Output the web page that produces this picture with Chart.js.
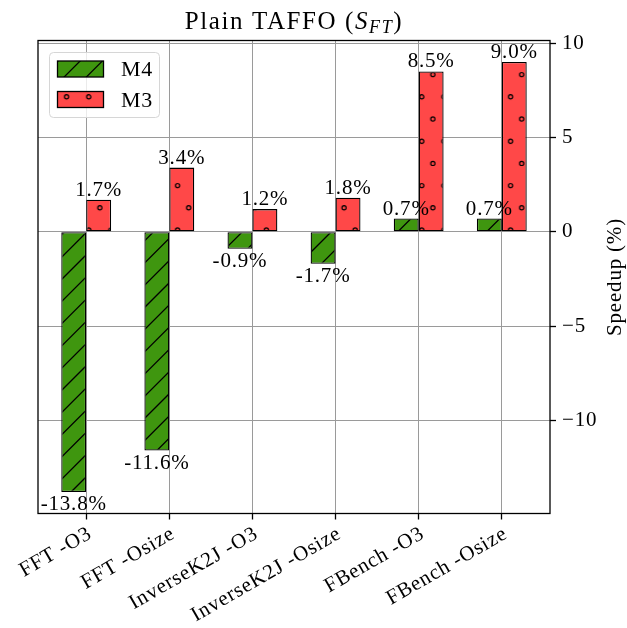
<!DOCTYPE html>
<html>
<head>
<meta charset="utf-8">
<script src="https://cdn.jsdelivr.net/npm/chart.js@4.4.1/dist/chart.umd.min.js"></script>
<style>
  html, body { margin: 0; padding: 0; background: #ffffff; }
  #wrap { width: 627px; height: 628px; }
</style>
</head>
<body>
<div id="wrap"><canvas id="c" width="627" height="628"></canvas></div>
<script>
// Benchmarks on the x axis
const categories = ['FFT -O3', 'FFT -Osize', 'InverseK2J -O3', 'InverseK2J -Osize', 'FBench -O3', 'FBench -Osize'];
// Speedup in percent for each target
const m4Speedup = [-13.8, -11.6, -0.9, -1.7, 0.7, 0.7];
const m3Speedup = [1.7, 3.4, 1.2, 1.8, 8.5, 9.0];
const seriesNames = ['M4', 'M3'];
// Value axis ticks
const yTicks = [-10, -5, 0, 5, 10];

const SERIF = '"Liberation Serif", "Times New Roman", serif';
const SPACING = '0.8px';
const GREEN = '#3f960f';
const RED = '#ff4848';
const HATCH = 22.2;      // hatch period in px
const TILE_W = 111;      // 5 hatch periods
const TILE_H = 222;      // 10 hatch periods (even, so staggered rows wrap cleanly)

function makeTile(bg, drawFn, tx, ty) {
  const cv = document.createElement('canvas');
  cv.width = TILE_W; cv.height = TILE_H;
  const g = cv.getContext('2d');
  g.fillStyle = bg;
  g.fillRect(0, 0, TILE_W, TILE_H);
  g.strokeStyle = '#000';
  drawFn(g);
  const ctx = document.getElementById('c').getContext('2d');
  const p = ctx.createPattern(cv, 'repeat');
  p.setTransform(new DOMMatrix([1, 0, 0, 1, tx, ty]));
  return p;
}

// "/" hatch
const slashPattern = makeTile(GREEN, g => {
  g.lineWidth = 1.3;
  g.beginPath();
  for (let k = -1; k <= 16; k++) {
    const c = k * HATCH;
    g.moveTo(c + 6, -6);
    g.lineTo(c - TILE_H - 6, TILE_H + 6);
  }
  g.stroke();
}, 8, 0);

// "o" hatch: rows one period apart, every other row shifted by half a period
const circlePattern = makeTile(RED, g => {
  g.lineWidth = 1.2;
  for (let j = -1; j <= 11; j++) {
    const shift = (((j % 2) + 2) % 2) ? HATCH / 2 : 0;
    for (let i = -1; i <= 6; i++) {
      g.beginPath();
      g.arc(i * HATCH + shift, j * HATCH, 2.1, 0, Math.PI * 2);
      g.stroke();
    }
  }
}, 88.7, 8);

const toPoints = arr => arr.map((v, i) => ({ x: i, y: v }));

// Wider glyph spacing for all text drawn by the chart
const spacingPlugin = {
  id: 'spacing',
  beforeUpdate(chart) { chart.ctx.letterSpacing = SPACING; },
  beforeLayout(chart) { chart.ctx.letterSpacing = SPACING; },
  beforeDraw(chart) { chart.ctx.letterSpacing = SPACING; }
};

// Frame, value labels, legend, titles
const decorPlugin = {
  id: 'decor',
  afterDatasetsDraw(chart) {
    const ctx = chart.ctx;
    const a = chart.chartArea;

    // value labels
    ctx.save();
    ctx.letterSpacing = SPACING;
    ctx.fillStyle = '#000';
    ctx.font = '21px ' + SERIF;
    ctx.textAlign = 'center';
    chart.data.datasets.forEach((ds, di) => {
      const meta = chart.getDatasetMeta(di);
      meta.data.forEach((bar, i) => {
        const v = ds.data[i].y;
        const txt = v.toFixed(1) + '%';
        if (v >= 0) {
          ctx.textBaseline = 'alphabetic';
          ctx.fillText(txt, bar.x, bar.y - 4);
        } else {
          ctx.textBaseline = 'top';
          ctx.fillText(txt, bar.x, bar.y + 2);
        }
      });
    });
    ctx.restore();

    // axes frame
    ctx.save();
    ctx.strokeStyle = '#000';
    ctx.lineWidth = 1.3;
    ctx.strokeRect(a.left, a.top, a.right - a.left, a.bottom - a.top);
    ctx.restore();

    // legend
    ctx.save();
    ctx.letterSpacing = SPACING;
    const bx = 49.5, by = 52.5, bw = 110, bh = 65;
    ctx.beginPath();
    ctx.roundRect(bx, by, bw, bh, 4);
    ctx.fillStyle = 'rgba(255,255,255,0.8)';
    ctx.fill();
    ctx.strokeStyle = '#d6d6d6';
    ctx.lineWidth = 1;
    ctx.stroke();
    const fills = [slashPattern, circlePattern];
    const rowsY = [61, 91.5];
    seriesNames.forEach((name, k) => {
      ctx.fillStyle = fills[k];
      ctx.fillRect(57.5, rowsY[k], 46, 16);
      ctx.strokeStyle = '#000';
      ctx.lineWidth = 1.3;
      ctx.strokeRect(57.5, rowsY[k], 46, 16);
      ctx.fillStyle = '#000';
      ctx.font = '22px ' + SERIF;
      ctx.textAlign = 'left';
      ctx.textBaseline = 'alphabetic';
      ctx.fillText(name, 121, rowsY[k] + 15);
    });
    ctx.restore();

    // title: Plain TAFFO (S_FT)
    ctx.save();
    ctx.letterSpacing = '1.6px';
    ctx.fillStyle = '#000';
    ctx.textBaseline = 'alphabetic';
    ctx.textAlign = 'left';
    const parts = [
      { t: 'Plain TAFFO (', f: '25px ' + SERIF, dy: 0 },
      { t: 'S', f: 'italic 25px ' + SERIF, dy: 0 },
      { t: 'FT', f: 'italic 18px ' + SERIF, dy: 4 },
      { t: ')', f: '25px ' + SERIF, dy: 0 }
    ];
    let total = 0;
    parts.forEach(p => { ctx.font = p.f; p.w = ctx.measureText(p.t).width; total += p.w; });
    let x = (a.left + a.right) / 2 - total / 2;
    const base = 29;
    parts.forEach(p => { ctx.font = p.f; ctx.fillText(p.t, x, base + p.dy); x += p.w; });
    ctx.restore();

    // value axis title on the right, reading upwards
    ctx.save();
    ctx.letterSpacing = SPACING;
    ctx.translate(615, (a.top + a.bottom) / 2);
    ctx.rotate(-Math.PI / 2);
    ctx.fillStyle = '#000';
    ctx.font = '21px ' + SERIF;
    ctx.textAlign = 'center';
    ctx.textBaseline = 'middle';
    ctx.fillText('Speedup (%)', 0, 0);
    ctx.restore();
  }
};

new Chart(document.getElementById('c'), {
  type: 'bar',
  data: {
    datasets: [
      { label: seriesNames[0], data: toPoints(m4Speedup), backgroundColor: slashPattern,
        borderColor: '#000', borderWidth: 1.3, borderSkipped: false },
      { label: seriesNames[1], data: toPoints(m3Speedup), backgroundColor: circlePattern,
        borderColor: '#000', borderWidth: 1.3, borderSkipped: false }
    ]
  },
  options: {
    responsive: false,
    animation: false,
    devicePixelRatio: 1,
    layout: { padding: { left: 38, top: 40.5, right: 0, bottom: 0 } },
    datasets: { bar: { categoryPercentage: 0.6, barPercentage: 1.0 } },
    plugins: { legend: { display: false }, tooltip: { enabled: false }, title: { display: false } },
    scales: {
      x: {
        type: 'linear',
        min: -0.58,
        max: 5.58,
        offset: false,
        grid: { color: '#9a9a9a', lineWidth: 1, offset: false, drawTicks: true, tickLength: 6,
                tickColor: '#000', tickWidth: 1.3 },
        border: { display: false },
        ticks: {
          stepSize: 1,
          includeBounds: false,
          autoSkip: false,
          maxRotation: 30,
          minRotation: 30,
          padding: 2,
          labelOffset: 4,
          color: '#000',
          font: { family: SERIF, size: 21 },
          callback: v => (Number.isInteger(v) && categories[v] !== undefined) ? categories[v] : ''
        },
        afterFit: s => { s.height = 628 - 513.5; }
      },
      y: {
        type: 'linear',
        position: 'right',
        min: -14.94,
        max: 10.14,
        grid: { color: '#9a9a9a', lineWidth: 1, drawTicks: true, tickLength: 6,
                tickColor: '#000', tickWidth: 1.3 },
        border: { display: false },
        afterBuildTicks: s => { s.ticks = yTicks.map(v => ({ value: v })); },
        ticks: {
          padding: 6,
          color: '#000',
          font: { family: SERIF, size: 21 },
          callback: v => v < 0 ? '\u2212' + Math.abs(v) : String(v)
        },
        afterFit: s => { s.width = 627 - 550; }
      }
    }
  },
  plugins: [spacingPlugin, decorPlugin]
});
</script>
</body>
</html>
